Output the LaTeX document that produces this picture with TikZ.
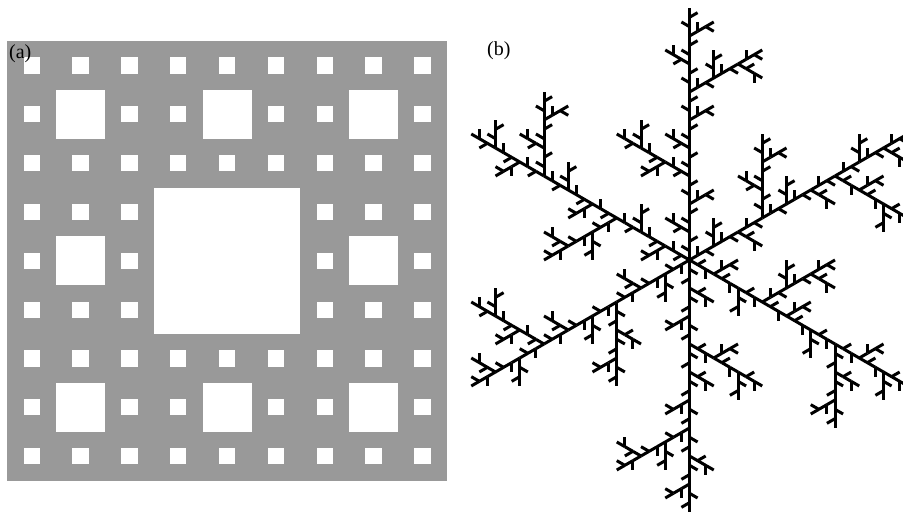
\documentclass[tikz,border=0pt]{standalone}
\usepackage{fontspec}
\setmainfont{Liberation Serif}
\definecolor{carpetgray}{RGB}{153,153,153}
\tikzset{
  lbl/.style={font=\fontsize{20}{24}\selectfont, inner sep=0pt, anchor=west},
  tree/.style={line width=3pt, black}
}
\def\callseg#1#2#3#4#5{\edef\tmpcall{\noexpand\snowseg{#1}{#2}{#3}{#4}{#5}}\tmpcall}
\newcommand\snowseg[5]{%
  \ifnum#1=0
    \draw[tree] (#2pt,#3pt) -- ++(#4:#5pt);%
  \else
    \begingroup
    \pgfmathsetmacro\sgl{#5/3}%
    \pgfmathsetmacro\sgax{#2+\sgl*cos(#4)}%
    \pgfmathsetmacro\sgay{#3+\sgl*sin(#4)}%
    \pgfmathsetmacro\sgbx{#2+2*\sgl*cos(#4)}%
    \pgfmathsetmacro\sgby{#3+2*\sgl*sin(#4)}%
    \pgfmathsetmacro\sgap{#4+60}%
    \pgfmathsetmacro\sgam{#4-60}%
    \edef\sglv{\the\numexpr#1-1\relax}%
    \edef\sgx{#2}\edef\sgy{#3}\edef\sga{#4}%
    \callseg{\sglv}{\sgx}{\sgy}{\sga}{\sgl}%
    \callseg{\sglv}{\sgax}{\sgay}{\sgap}{\sgl}%
    \callseg{\sglv}{\sgax}{\sgay}{\sga}{\sgl}%
    \callseg{\sglv}{\sgbx}{\sgby}{\sgam}{\sgl}%
    \callseg{\sglv}{\sgbx}{\sgby}{\sga}{\sgl}%
    \endgroup
  \fi}
\begin{document}
\begin{tikzpicture}[x=1pt,y=1pt]
\useasboundingbox (0,0) rectangle (903,513);
% ---- (a) Sierpinski carpet ----
\def\cs{16.28}
\begin{scope}[shift={(7.3,32.4)}]
  \fill[carpetgray] (0,0) rectangle (27*\cs,27*\cs);
  \foreach \i in {0,...,8}{
    \foreach \j in {0,...,8}{
      \fill[white] ({(3*\i+1)*\cs},{(3*\j+1)*\cs}) rectangle ++(\cs,\cs);
    }
  }
  \foreach \i in {0,1,2}{
    \foreach \j in {0,1,2}{
      \fill[white] ({(9*\i+3)*\cs},{(9*\j+3)*\cs}) rectangle ++(3*\cs,3*\cs);
    }
  }
  \fill[white] (9*\cs,9*\cs) rectangle (18*\cs,18*\cs);
\end{scope}
\node[lbl] (la) at (9,459) {(a)};
% ---- (b) fractal snowflake ----
\node[lbl] (lb) at (487,462) {(b)};
\foreach \k in {0,...,5}{
  \pgfmathsetmacro\armang{90+60*\k}
  \callseg{3}{689.5}{253}{\armang}{252}
}
\end{tikzpicture}
\end{document}
